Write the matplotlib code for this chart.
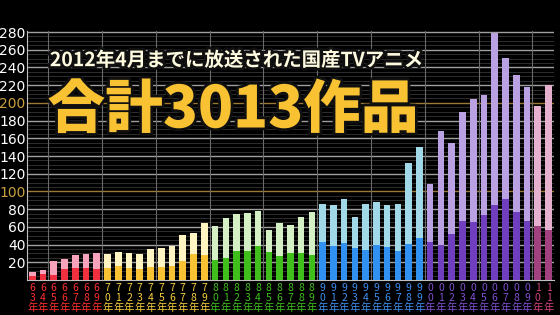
"""
Anime titles aired per year in Japan, 1963-2011.
"""
import matplotlib
matplotlib.use("Agg")
import matplotlib.pyplot as plt
import matplotlib.patheffects as pe

plt.rcParams['font.family'] = ['Noto Sans CJK JP', 'DejaVu Sans']

years = list(range(1963, 2012))
# total height of each bar (light part) and the lower, darker part
total = [9, 11, 21, 24, 28, 29, 31,
         29, 32, 30, 29, 35, 36, 38, 51, 53, 64,
         61, 70, 75, 76, 78, 56, 64, 62, 71, 77,
         86, 85, 92, 71, 86, 88, 85, 86, 132, 150,
         109, 168, 155, 190, 204, 209, 279, 251, 232, 218,
         196, 220]
lower = [4, 7, 6, 12, 14, 14, 12,
         14, 16, 14, 12, 15, 15, 16, 21, 29, 28,
         23, 25, 33, 33, 38, 32, 27, 30, 31, 28,
         43, 38, 42, 36, 34, 40, 37, 33, 41, 48,
         43, 40, 52, 67, 65, 73, 85, 92, 77, 67,
         61, 57]
yticks = list(range(20, 281, 20))

# decade -> (light, dark, label colour)
decade_colors = {
    1960: ('#f7a3bb', '#f0303e', '#ff3030'),
    1970: ('#fff4c2', '#f8c234', '#f8d040'),
    1980: ('#d6f0c6', '#3fbe1c', '#40c020'),
    1990: ('#a2d9e9', '#3191f0', '#3f8ff0'),
    2000: ('#b9a1e2', '#6f3fc0', '#8050d0'),
    2010: ('#e6b1cf', '#a2417f', '#d04080'),
}

fig = plt.figure(figsize=(5.6, 3.15), dpi=100, facecolor='black')
ax = fig.add_axes([0.048, 0.111, 0.941, 0.79])
ax.set_facecolor('black')

# grid
for v in range(5, 281, 5):
    if v % 20 == 0:
        col = '#9a7a30' if v in (100, 200) else '#a0a0a0'
        ax.axhline(v, color=col, lw=1.0, zorder=1)
    else:
        ax.axhline(v, color='#353535', lw=0.6, zorder=1)
for x in range(1965, 2011, 5):
    ax.axvline(x - 0.5, color='#6a6a6a', lw=0.8, zorder=1)

light = [decade_colors[y // 10 * 10][0] for y in years]
dark = [decade_colors[y // 10 * 10][1] for y in years]
ax.bar(years, total, width=0.62, color=light, zorder=2)
ax.bar(years, lower, width=0.62, color=dark, zorder=3)

ax.set_xlim(1962.5, 2011.5)
ax.set_ylim(0, 281)
ax.set_yticks(yticks)
ax.set_yticklabels([str(v) for v in yticks], fontsize=10,
                   family=['Liberation Sans Narrow', 'DejaVu Sans'])
for lab, v in zip(ax.get_yticklabels(), yticks):
    lab.set_color('#c8a040' if v in (100, 200) else 'white')
ax.tick_params(axis='y', length=0, pad=1)

ax.set_xticks(years)
ax.set_xticklabels([f"{str(y)[2]}\n{str(y)[3]}\n年" for y in years],
                   fontsize=7.5, linespacing=1.0)
for lab, y in zip(ax.get_xticklabels(), years):
    lab.set_color(decade_colors[y // 10 * 10][2])
ax.tick_params(axis='x', length=0, pad=2)

for s in ['top', 'right']:
    ax.spines[s].set_visible(False)
for s in ['left', 'bottom']:
    ax.spines[s].set_color('#c0c0c0')

shadow = [pe.withStroke(linewidth=4, foreground='#101010')]
fig.text(0.089, 0.808, "2012年4月までに放送された国産TVアニメ", fontsize=14,
         fontweight='bold', color='#fffbe0', va='center', path_effects=shadow)
fig.text(0.085, 0.65, "合計3013作品", fontsize=41.5, fontweight='heavy',
         color='#f8c232', va='center', path_effects=shadow)

fig.savefig("out.png", dpi=100, facecolor='black')
